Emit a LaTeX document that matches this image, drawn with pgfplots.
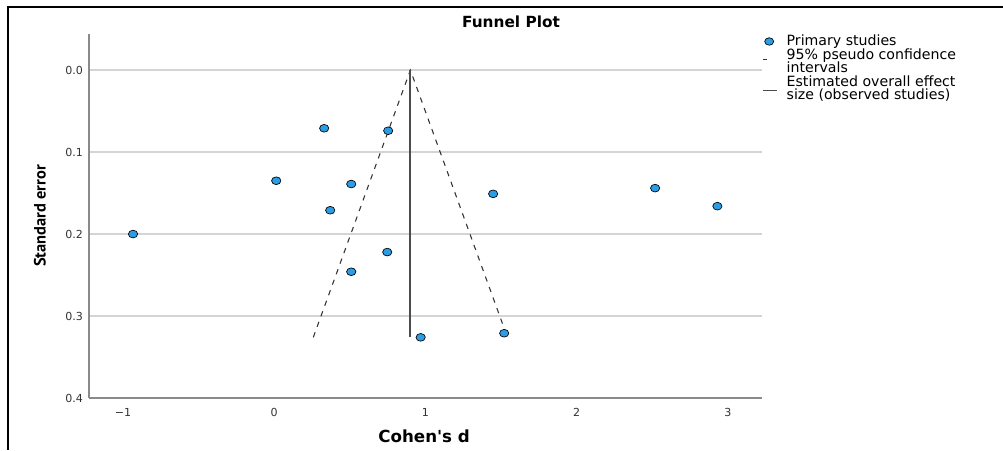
\documentclass[border=0pt]{standalone}
\usepackage{pgfplots}
\pgfplotsset{compat=1.18}
\usepackage{fontspec}
\setmainfont{DejaVu Sans}
\newfontfamily\ptsans{PT Sans}
\definecolor{ptblue}{HTML}{2A9DE4}
\definecolor{gridgray}{HTML}{D4D4D4}
\definecolor{axgray}{HTML}{8A8A8A}
\definecolor{txtgray}{HTML}{333333}
\DeclareRobustCommand\legfont{\fontsize{10.6}{9.6}\selectfont\lineskiplimit=-10pt\relax}
\pgfplotsset{
  legscatter/.style={legend image code/.code={\draw[fill=ptblue, draw=black, line width=0.5pt, xscale=1.2] (4pt,0pt) circle (2.8pt);}},
  legdash/.style={legend image code/.code={\draw[solid, txtgray, line width=0.6pt] (0pt,2pt) -- (3.5pt,2pt);}},
  legline/.style={legend image code/.code={\draw[black!70, line width=0.8pt] (0pt,-1pt) -- (10.5pt,-1pt);}},
}
\begin{document}
\begin{tikzpicture}
\useasboundingbox (0pt,0pt) rectangle (752.25pt,337.5pt);
\draw[line width=1.3pt] (6pt,0pt) -- (6pt,332.25pt) -- (752.25pt,332.25pt);
\begin{axis}[
  at={(66.75pt,39pt)}, anchor=south west,
  scale only axis, width=504.75pt, height=273pt,
  xmin=-1.225, xmax=3.225,
  ymin=-0.044, ymax=0.4, y dir=reverse,
  axis x line*=bottom, axis y line*=left,
  axis line style={axgray, line width=1.1pt, -},
  xtick={-1,0,1,2,3}, xticklabels={−1,0,1,2,3},
  ytick={0,0.1,0.2,0.3,0.4}, yticklabels={0.0,0.1,0.2,0.3,0.4},
  major tick length=0pt,
  tick label style={font=\fontsize{8.3}{9}\selectfont, text=txtgray},
  yticklabel style={xshift=-1pt},
  xticklabel style={yshift=-4pt},
  ymajorgrids, major grid style={gridgray, line width=1.3pt},
  every axis y label/.style={at={(axis description cs:-0.073,0.5)}, rotate=90, anchor=center, font=\ptsans\bfseries\fontsize{12.3}{13}\selectfont},
  every axis x label/.style={at={(axis description cs:0.498,-0.104)}, anchor=center, font=\bfseries\fontsize{12.5}{13}\selectfont},
  ylabel={Standard error},
  xlabel={Cohen\textquotesingle s d},
  title={Funnel Plot},
  every axis title/.style={at={(axis description cs:0.627,1.033)}, anchor=center, font=\bfseries\fontsize{11.5}{13}\selectfont},
  clip=false,
  legend style={at={(1.0,1.005)}, anchor=north west, draw=none, fill=none,
    font=\legfont, inner sep=0pt, row sep=-3pt, column sep=5pt,
    cells={anchor=west, align=left}},
  legend cell align=left,
]
\addplot[only marks, mark=*, mark size=2.9pt, mark options={fill=ptblue, draw=black, line width=0.5pt, xscale=1.2}, legscatter]
  coordinates {
  (-0.934,0.200) (0.33,0.071) (0.753,0.074) (0.013,0.135) (0.509,0.139)
  (0.37,0.171) (1.447,0.151) (2.518,0.144) (2.93,0.166) (0.747,0.222)
  (0.509,0.246) (0.968,0.326) (1.52,0.321)
  };
\addlegendentry{Primary studies}
\addplot[txtgray, line width=0.8pt, dash pattern=on 4pt off 4.4pt, legdash]
  coordinates {(0.258,0.326) (0.9,0) (1.542,0.326)};
\addlegendentry{95\% pseudo confidence\\intervals}
\addplot[black!70, line width=1.6pt, legline]
  coordinates {(0.9,0) (0.9,0.326)};
\addlegendentry{Estimated overall effect\\size (observed studies)}
\end{axis}
\end{tikzpicture}
\end{document}
